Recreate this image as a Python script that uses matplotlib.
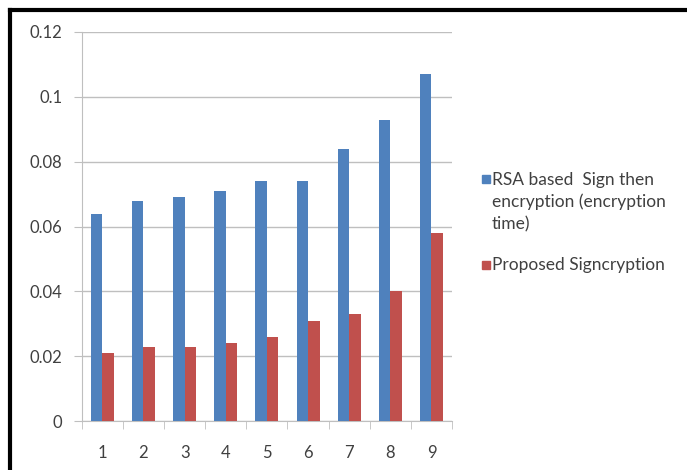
import matplotlib.pyplot as plt
import numpy as np
from matplotlib.lines import Line2D
from matplotlib.patches import Rectangle

CATEGORIES = ['1', '2', '3', '4', '5', '6', '7', '8', '9']
RSA_TIME = [0.064, 0.068, 0.069, 0.071, 0.074, 0.074, 0.084, 0.093, 0.107]
SIGNCRYPTION_TIME = [0.021, 0.023, 0.023, 0.024, 0.026, 0.031, 0.033, 0.040, 0.058]
Y_TICKS = [0, 0.02, 0.04, 0.06, 0.08, 0.1, 0.12]
Y_TICK_LABELS = ['0', '0.02', '0.04', '0.06', '0.08', '0.1', '0.12']
LABELS = ['RSA based  Sign then\nencryption (encryption\ntime)', 'Proposed Signcryption']

BLUE = '#4F81BD'
RED = '#C0504D'
GRID = '#BFBFBF'
TEXT = '#404040'

plt.rcParams['font.family'] = ['Lato', 'DejaVu Sans']

fig = plt.figure(figsize=(6.87, 4.70), dpi=100)
ax = fig.add_axes([0.119, 0.104, 0.539, 0.828])

x = np.arange(1, len(CATEGORIES) + 1)
w = 0.28
ax.bar(x - w / 2, RSA_TIME, w, color=BLUE, zorder=3)
ax.bar(x + w / 2, SIGNCRYPTION_TIME, w, color=RED, zorder=3)

ax.set_xlim(0.5, len(CATEGORIES) + 0.5)
ax.set_ylim(0, 0.12)
ax.set_yticks(Y_TICKS, Y_TICK_LABELS)
ax.set_xticks(x, CATEGORIES)
ax.set_xticks(np.arange(0.5, len(CATEGORIES) + 1), minor=True)
ax.yaxis.grid(True, color=GRID, linewidth=1, zorder=0)

for side in ['top', 'right']:
    ax.spines[side].set_visible(False)
for side in ['left', 'bottom']:
    ax.spines[side].set_color(GRID)

ax.tick_params(axis='y', length=6, color=GRID, labelsize=12, labelcolor=TEXT, pad=8)
ax.tick_params(axis='x', which='major', length=0, labelsize=12, labelcolor=TEXT, pad=17)
ax.tick_params(axis='x', which='minor', length=6, color=GRID)

# legend drawn by hand: square beside the first line of each label
legend_rows = [(0.6106, 0.570), (0.4277, 0.436)]
for (sq_y, txt_y), color, label in zip(legend_rows, [BLUE, RED], LABELS):
    fig.add_artist(Rectangle((0.7016, sq_y), 0.0116, 0.017, color=color,
                             transform=fig.transFigure))
    fig.text(0.716, txt_y, label, ha='left', va='center', fontsize=12.5,
             color=TEXT, linespacing=1.45)

# border of the original screenshot (top and left only)
fig.add_artist(Line2D([0.0145, 1.0], [0.979, 0.979], color='black', linewidth=3,
                      transform=fig.transFigure))
fig.add_artist(Line2D([0.0145, 0.0145], [0.0, 0.979], color='black', linewidth=3,
                      transform=fig.transFigure))

fig.savefig('out.png', dpi=100)
